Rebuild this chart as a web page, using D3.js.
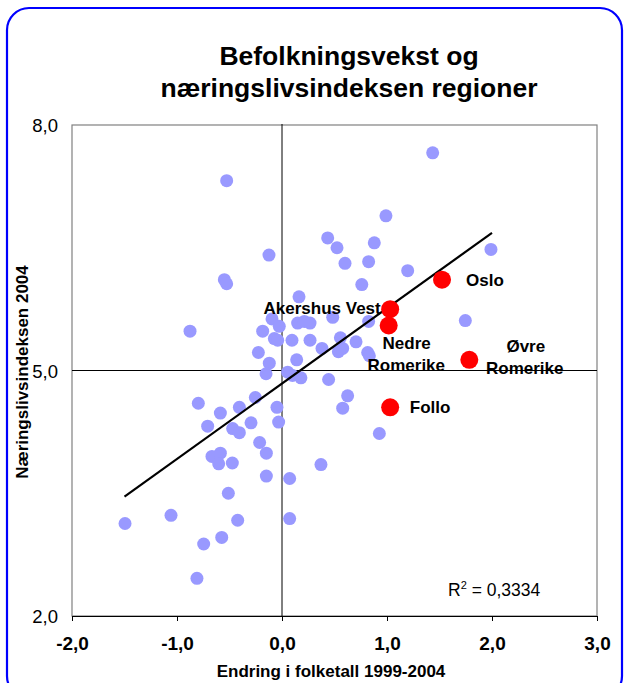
<!DOCTYPE html>
<html><head><meta charset="utf-8">
<script src="https://cdn.jsdelivr.net/npm/d3@7"></script>
<style>body{margin:0;background:#fff}svg{display:block}text{font-family:"Liberation Sans",Arial,sans-serif}</style>
</head><body>
<script>
const titleLines = ["Befolkningsvekst og", "næringslivsindeksen regioner"];
const xTicks = [-2, -1, 0, 1, 2, 3];
const yTicks = [2, 5, 8];
const xLabel = "Endring i folketall 1999-2004";
const yLabel = "Næringslivsindeksen 2004";
const r2Text = "0,3334";
const blueX = [-0.527,0.435,0.524,0.600,-0.124,-0.549,-0.527,-0.876,0.162,-0.095,-0.026,-0.184,-0.073,-0.041,0.095,0.267,0.149,0.213,0.267,0.483,-0.225,0.381,-0.121,0.140,0.054,-0.152,0.100,0.180,0.444,1.435,0.990,0.879,0.825,1.197,1.990,0.760,0.825,1.746,0.556,0.705,0.537,0.578,0.816,0.832,-0.048,-0.032,0.578,0.625,-0.797,-0.587,-0.406,-0.254,-0.708,-0.470,-0.406,-0.295,-0.213,-0.149,-0.667,-0.587,-0.603,-0.473,-0.149,0.073,0.371,-0.511,-1.495,-1.057,-0.422,0.073,-0.746,-0.574,-0.810,0.927];
const blueY = [7.32,6.62,6.50,6.31,6.41,6.11,6.06,5.48,5.90,5.63,5.54,5.48,5.39,5.37,5.37,5.37,5.58,5.60,5.58,5.65,5.22,5.27,5.09,5.13,4.98,4.96,4.94,4.91,4.89,7.66,6.89,6.56,6.33,6.22,6.48,6.05,5.60,5.61,5.40,5.35,5.23,5.27,5.22,5.18,4.55,4.37,4.54,4.69,4.60,4.48,4.55,4.67,4.32,4.29,4.24,4.36,4.12,3.99,3.95,3.99,3.86,3.87,3.71,3.68,3.85,3.50,3.13,3.23,3.17,3.19,2.88,2.96,2.46,4.23];
const regionNames = ["Oslo", "Akershus Vest", "Nedre Romerike", "Øvre Romerike", "Follo"];
const regionX = [1.524, 1.030, 1.016, 1.784, 1.030];
const regionY = [6.11, 5.75, 5.55, 5.13, 4.55];
const trendX = [-1.5, 2.0];
const trendSlope = 0.921;
const trendIntercept = 4.84;

// label layout (pixel offsets from marker)
const labelLayout = {
  "Oslo": {lines:["Oslo"], dx:[43], dy:[6]},
  "Akershus Vest": {lines:["Akershus Vest"], dx:[-68], dy:[5]},
  "Nedre Romerike": {lines:["Nedre","Romerike"], dx:[18,17.6], dy:[24,46]},
  "Øvre Romerike": {lines:["Øvre","Romerike"], dx:[56.5,55.4], dy:[-8,14.5]},
  "Follo": {lines:["Follo"], dx:[40], dy:[6]}
};

const W = 627, H = 683;
const FONT = "Liberation Sans, Arial, sans-serif";
const svg = d3.select("body").append("svg").attr("width", W).attr("height", H);

svg.append("rect").attr("x", 7).attr("y", 8).attr("width", 615).attr("height", 690)
  .attr("rx", 22).attr("fill", "#fff").attr("stroke", "#0000ff").attr("stroke-width", 2.2);

const x = d3.scaleLinear().domain([-2, 3]).range([72, 597]);
const y = d3.scaleLinear().domain([2, 8]).range([616, 125]);

svg.selectAll(".title").data(titleLines).join("text")
  .attr("x", 349).attr("y", (d, i) => 65 + i * 32)
  .attr("text-anchor", "middle").attr("font-weight", "bold").attr("font-size", 26.5)
  .text(d => d);

// plot frame
svg.append("rect").attr("x", x(-2)).attr("y", y(8)).attr("width", x(3) - x(-2)).attr("height", y(2) - y(8))
  .attr("fill", "none").attr("stroke", "#808080").attr("stroke-width", 1.2);

// crossing lines
svg.append("line").attr("x1", x(-2)).attr("x2", x(3)).attr("y1", y(5)).attr("y2", y(5)).attr("stroke", "#000").attr("stroke-width", 1);
svg.append("line").attr("x1", x(0)).attr("x2", x(0)).attr("y1", y(8) - 1).attr("y2", y(2)).attr("stroke", "#000").attr("stroke-width", 1);

// x axis at bottom
const xAxis = d3.axisBottom(x).tickValues(xTicks).tickSize(5).tickSizeOuter(0)
  .tickFormat(d => d3.format(".1f")(d).replace(".", ",").replace("−", "-"));
const gx = svg.append("g").attr("transform", `translate(0,${y(2)})`).call(xAxis);
gx.select(".domain").attr("stroke", "#000");
gx.selectAll(".tick text").attr("font-size", 19).attr("font-weight", "bold")
  .attr("y", 34).attr("dy", 0).attr("font-family", FONT).attr("fill", "#000");

// y axis labels
const yAxis = d3.axisLeft(y).tickValues(yTicks).tickSize(0)
  .tickFormat(d => d3.format(".1f")(d).replace(".", ","));
const gy = svg.append("g").attr("transform", `translate(${x(-2)},0)`).call(yAxis);
gy.select(".domain").remove();
gy.selectAll(".tick text").attr("font-size", 18.5).attr("x", -14).attr("dy", 6.5)
  .attr("font-family", FONT).attr("fill", "#000");

// axis titles
svg.append("text").attr("x", 331).attr("y", 677).attr("text-anchor", "middle")
  .attr("font-weight", "bold").attr("font-size", 17).text(xLabel);
svg.append("text").attr("transform", `translate(28,372) rotate(-90)`).attr("text-anchor", "middle")
  .attr("font-weight", "bold").attr("font-size", 17).text(yLabel);

// blue points
const blue = blueX.map((v, i) => ({x: v, y: blueY[i]}));
svg.append("g").selectAll("circle").data(blue).join("circle")
  .attr("cx", d => x(d.x)).attr("cy", d => y(d.y)).attr("r", 6.5).attr("fill", "#9999ff");

// trend line
svg.append("line").attr("x1", x(trendX[0])).attr("y1", y(trendIntercept + trendSlope * trendX[0]))
  .attr("x2", x(trendX[1])).attr("y2", y(trendIntercept + trendSlope * trendX[1]))
  .attr("stroke", "#000").attr("stroke-width", 2.2);

// red points
const regions = regionNames.map((n, i) => ({name: n, x: regionX[i], y: regionY[i]}));
svg.append("g").selectAll("circle").data(regions).join("circle")
  .attr("cx", d => x(d.x)).attr("cy", d => y(d.y)).attr("r", 9).attr("fill", "#ff0000");

// labels
regions.forEach(d => {
  const L = labelLayout[d.name];
  L.lines.forEach((t, i) => {
    svg.append("text").attr("x", x(d.x) + L.dx[i]).attr("y", y(d.y) + L.dy[i])
      .attr("text-anchor", "middle").attr("font-weight", "bold").attr("font-size", 17).text(t);
  });
});

// R2
const r2 = svg.append("text").attr("x", 448).attr("y", 596).attr("font-size", 17.5);
r2.append("tspan").text("R");
r2.append("tspan").attr("font-size", 11).attr("dy", -7).text("2");
r2.append("tspan").attr("dy", 7).text(" = " + r2Text);
</script>
</body></html>
